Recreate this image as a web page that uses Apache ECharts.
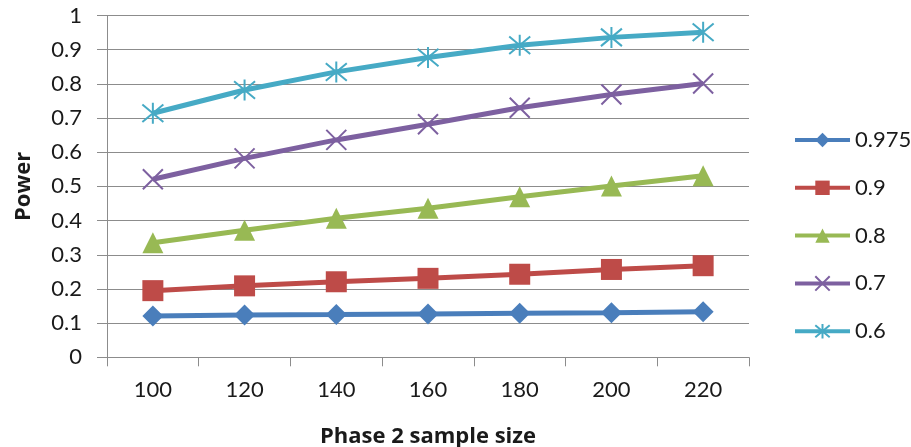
<!DOCTYPE html>
<html>
<head>
<meta charset="utf-8">
<script src="https://cdn.jsdelivr.net/npm/echarts@6/dist/echarts.min.js"></script>
<style>
  html, body { margin: 0; padding: 0; background: #ffffff; }
  #chart { width: 911px; height: 447px; }
</style>
</head>
<body>
<div id="chart"></div>
<script>
// Sample sizes on the category axis
const sampleSizes = ['100', '120', '140', '160', '180', '200', '220'];

// Power for each threshold
const power0975 = [0.121, 0.124, 0.125, 0.127, 0.129, 0.130, 0.133];
const power09   = [0.195, 0.209, 0.221, 0.231, 0.243, 0.257, 0.268];
const power08   = [0.335, 0.372, 0.407, 0.436, 0.470, 0.501, 0.531];
const power07   = [0.521, 0.582, 0.636, 0.682, 0.730, 0.769, 0.801];
const power06   = [0.714, 0.782, 0.835, 0.877, 0.913, 0.936, 0.951];

const seriesNames = ['0.975', '0.9', '0.8', '0.7', '0.6'];

const FONT = 'Lato, "Open Sans", sans-serif';
const TITLE_FONT = '"Open Sans", Lato, sans-serif';
const GRID_GRAY = '#8c8c8c';

const crossPath = 'path://M0,0L10,10M10,0L0,10';
const starPath = 'path://M0,0L10,10M10,0L0,10M5,-1L5,11';

function filledSeries(name, data, color, symbol, size) {
  return {
    name: name,
    type: 'line',
    data: data,
    symbol: symbol,
    symbolSize: size,
    showAllSymbol: true,
    lineStyle: { color: color, width: 5 },
    itemStyle: { color: color },
    emphasis: { disabled: true },
    animation: false
  };
}

function strokeSeries(name, data, color, symbol, size) {
  return {
    name: name,
    type: 'line',
    data: data,
    symbol: symbol,
    symbolSize: size,
    showAllSymbol: true,
    lineStyle: { color: color, width: 5 },
    itemStyle: { color: 'none', borderColor: color, borderWidth: 2 },
    emphasis: { disabled: true },
    animation: false
  };
}

const chart = echarts.init(document.getElementById('chart'), null, { renderer: 'canvas' });

chart.setOption({
  backgroundColor: '#ffffff',
  animation: false,
  grid: {
    left: 107, right: 162, top: 15.5, bottom: 89.7,
    containLabel: false,
    outerBoundsMode: 'none'
  },
  legend: {
    orient: 'vertical',
    left: 788,
    top: 124,
    itemWidth: 55,
    itemHeight: 18,
    itemGap: 25.8,
    data: seriesNames,
    lineStyle: { width: 4 },
    textStyle: { fontFamily: FONT, fontSize: 22, color: '#1a1a1a' },
    selectedMode: false
  },
  xAxis: {
    type: 'category',
    data: sampleSizes,
    boundaryGap: true,
    name: 'Phase 2 sample size',
    nameLocation: 'middle',
    nameGap: 68,
    nameTextStyle: { fontFamily: TITLE_FONT, fontSize: 22, fontWeight: 'bold', color: '#1a1a1a' },
    axisLine: { show: true, lineStyle: { color: GRID_GRAY, width: 1 } },
    axisTick: { show: true, length: 9, lineStyle: { color: GRID_GRAY, width: 1 } },
    axisLabel: { fontFamily: FONT, fontSize: 22, color: '#1a1a1a', margin: 22 },
    splitLine: { show: false }
  },
  yAxis: {
    type: 'value',
    min: 0,
    max: 1,
    interval: 0.1,
    name: 'Power',
    nameLocation: 'middle',
    nameGap: 72,
    nameRotate: 90,
    nameTextStyle: { fontFamily: TITLE_FONT, fontSize: 22, fontWeight: 'bold', color: '#1a1a1a' },
    axisLine: { show: true, lineStyle: { color: GRID_GRAY, width: 1 } },
    axisTick: { show: true, length: 10, lineStyle: { color: GRID_GRAY, width: 1 } },
    axisLabel: {
      fontFamily: FONT, fontSize: 22, color: '#1a1a1a', margin: 25,
      formatter: function (v) { return String(Math.round(v * 10) / 10); }
    },
    splitLine: { show: true, lineStyle: { color: GRID_GRAY, width: 1 } }
  },
  series: [
    filledSeries(seriesNames[0], power0975, '#4a7ebb', 'diamond', 21),
    filledSeries(seriesNames[1], power09, '#be4b48', 'rect', 21),
    filledSeries(seriesNames[2], power08, '#98b954', 'triangle', 21),
    strokeSeries(seriesNames[3], power07, '#7d60a0', crossPath, 20),
    strokeSeries(seriesNames[4], power06, '#46aac5', starPath, 21)
  ]
});
</script>
</body>
</html>
